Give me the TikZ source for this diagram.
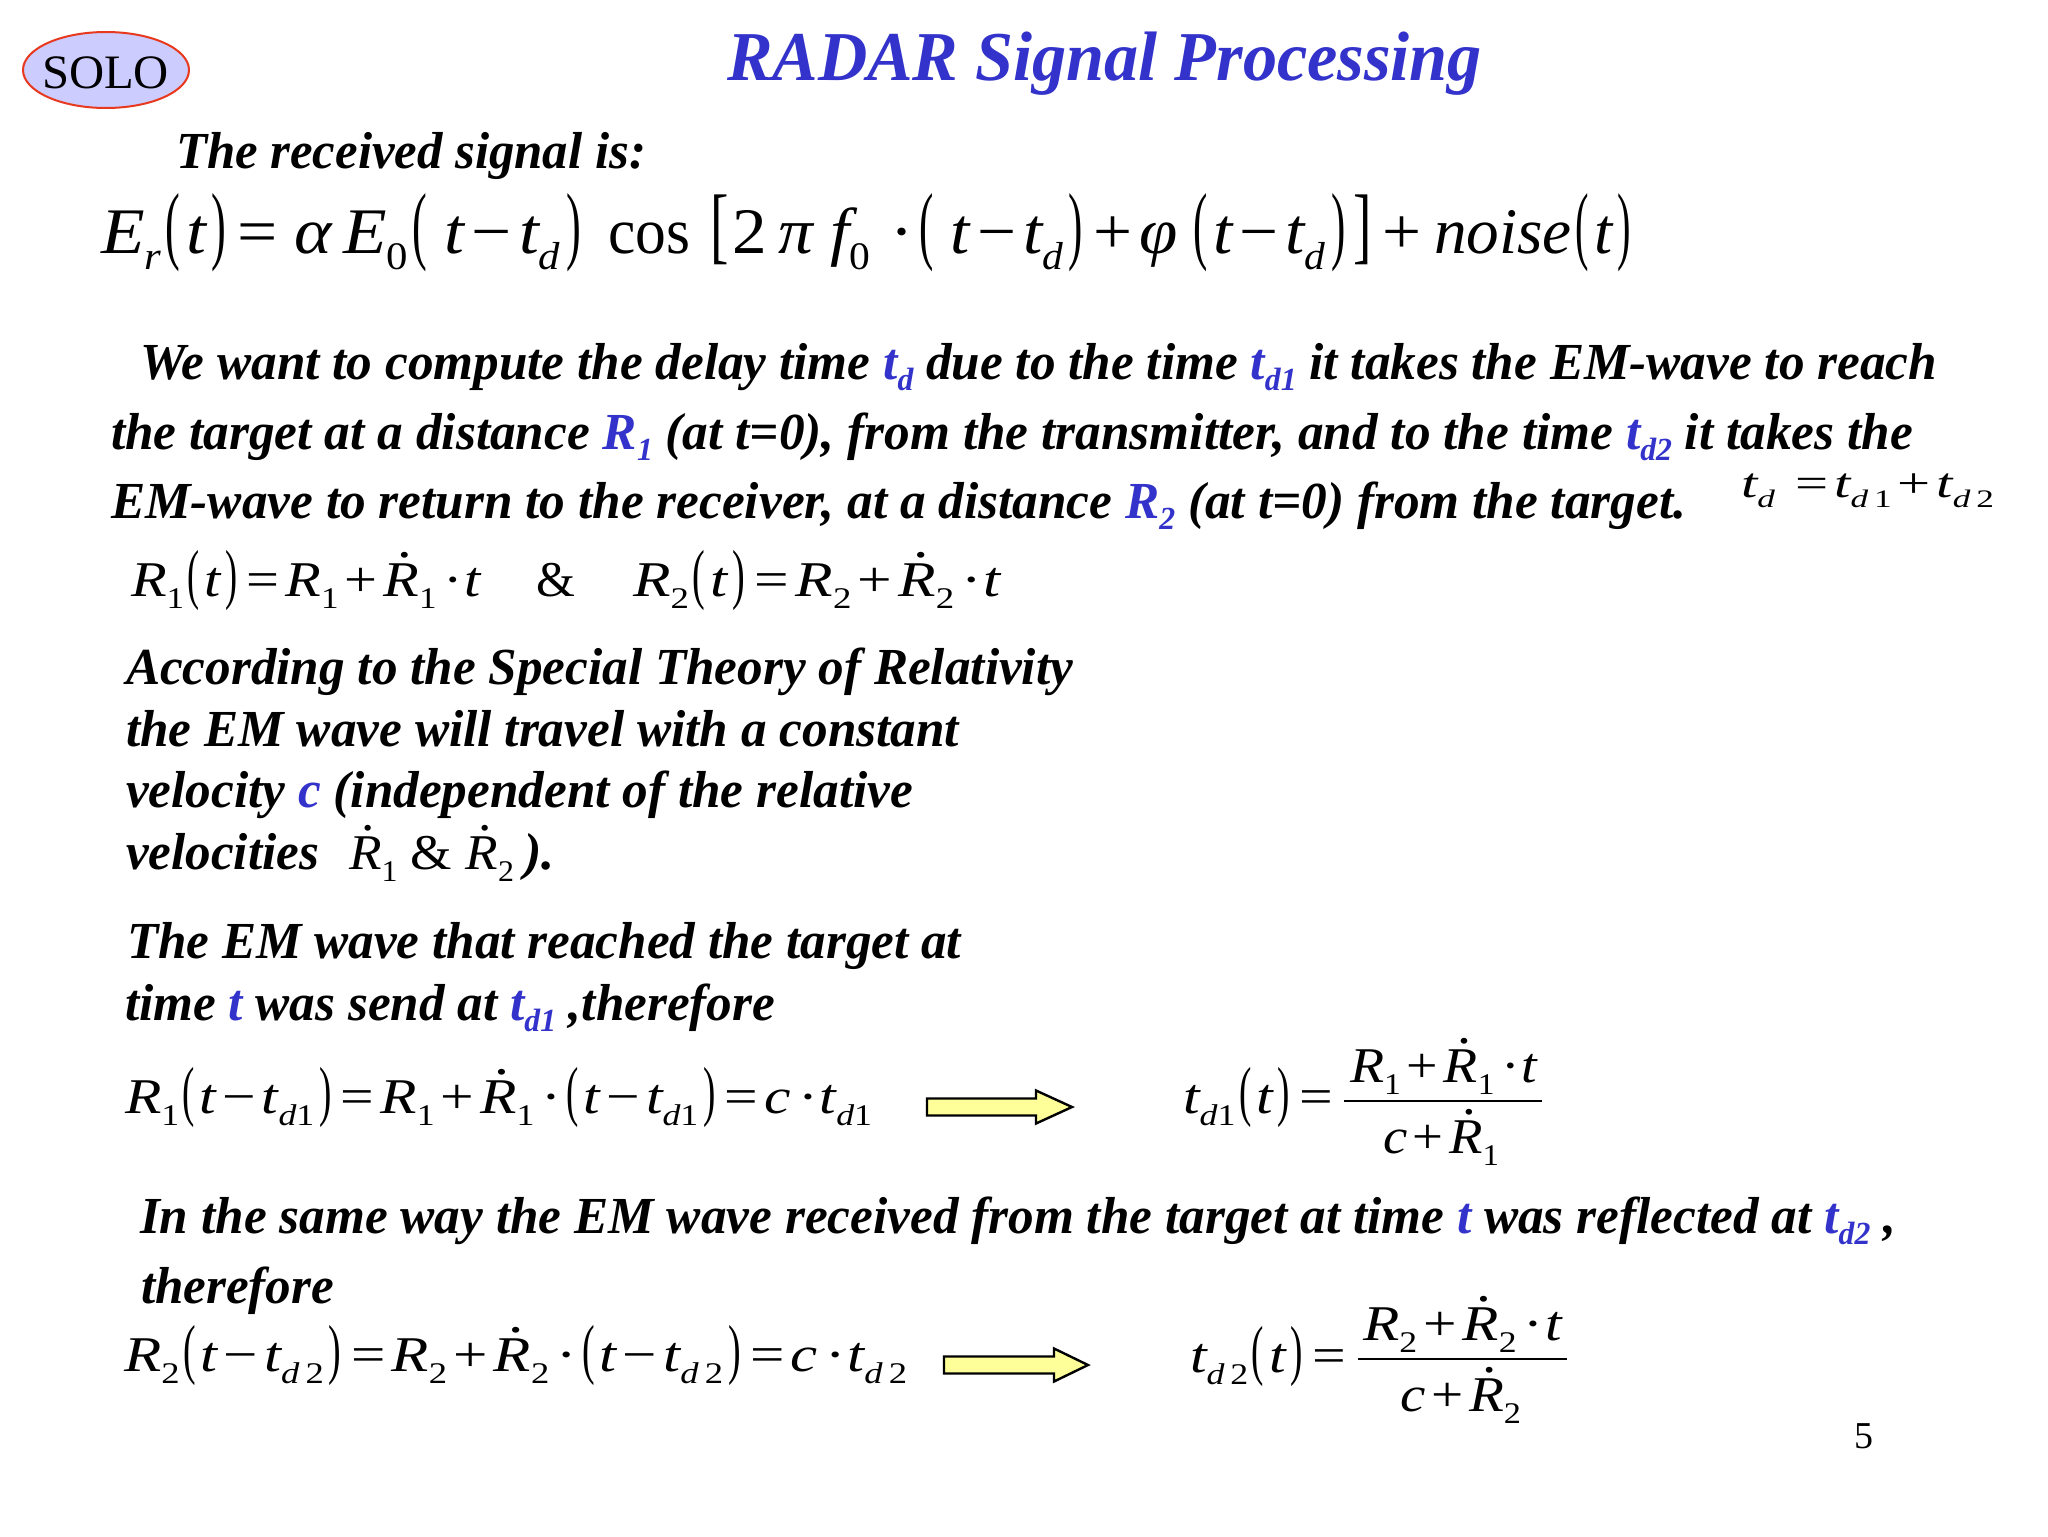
\documentclass[tikz,border=0pt]{standalone}
\usepackage{fontspec}
\usepackage{graphicx}
\usetikzlibrary{shapes.geometric}
\setmainfont{Liberation Serif}
\definecolor{tblue}{HTML}{3333CC}
\definecolor{solofill}{HTML}{CCCCFF}
\definecolor{solored}{HTML}{E8391F}
\definecolor{arrowfill}{HTML}{FFFF99}
\newlength{\pxu}\setlength{\pxu}{0.5pt}
\newcommand{\fitw}[2]{\resizebox{#1\pxu}{\height}{#2}}
\newcommand{\Lp}{\kern.06em\scalebox{.62}[1.33]{\upshape(}\kern.08em}
\newcommand{\Rp}{\kern.08em\scalebox{.62}[1.33]{\upshape)}\kern.06em}
\newcommand{\Lb}{\kern.05em\scalebox{.8}[1.3]{\upshape[}\kern.05em}
\newcommand{\Rb}{\kern.05em\scalebox{.8}[1.3]{\upshape]}\kern.05em}
\newcommand{\sbs}[1]{\raisebox{-.25em}{\scalebox{.6}{#1}}}
\newcommand{\Up}[1]{{\upshape #1}}
\newcommand{\Eq}{\kern.1em{\upshape=}\kern.1em}
\newcommand{\EqEnd}{\kern.1em{\upshape=}}
\newcommand{\Pl}{\kern.1em{\upshape+}\kern.1em}
\newcommand{\PlEnd}{\kern.1em{\upshape+}}
\newcommand{\Mi}{\kern.1em{\upshape−}\kern.1em}
\newcommand{\Cd}{\kern.12em{\upshape·}\kern.03em}
\newcommand{\dR}{\rlap{\kern.24em\raisebox{.78em}{\upshape .}}R}
\newcommand{\bl}[1]{{\color{tblue}#1}}
\newcommand{\tsub}[2]{#1\raisebox{-.22em}{\scalebox{.62}{#2}}}
\newcommand{\fsz}[1]{\fontsize{#1}{#1}\selectfont}
\tikzset{
  lbl/.style={anchor=base west,inner sep=0pt,outer sep=0pt},
  bodytext/.style={lbl,font=\fsz{26}\bfseries\itshape},
  formula/.style={lbl,font=\fsz{25}\itshape},
  bigformula/.style={lbl,font=\fsz{32.5}\itshape},
  bigarrow/.style={draw=black,line width=1.2pt,fill=arrowfill,line join=miter},
  fracbar/.style={draw=black,line width=1pt}
}
\begin{document}
\begin{tikzpicture}[x=0.5pt,y=-0.5pt]
\useasboundingbox (0,0) rectangle (2048,1536);
\fill[white] (0,0) rectangle (2048,1536);
\node[ellipse,draw=solored,fill=solofill,line width=1pt,minimum width=166\pxu,minimum height=76\pxu,inner sep=0pt] (soloshape) at (106,70) {};
\node[lbl,font=\fsz{24}] (solo) at (42,89) {\fitw{127}{SOLO}};
\node[lbl,font=\fsz{35}\bfseries\itshape,text=tblue] (title) at (727,80) {\fitw{755}{RADAR Signal Processing}};
\node[bodytext] (recv) at (176,168) {\fitw{470}{The received signal is:}};
\node[bigformula] (eqmaina) at (101,253) {\fitw{177}{E\sbs{r}\Lp t\Rp\EqEnd}};
\node[bigformula] (eqmainb) at (294,253) {\fitw{291}{α\,E\sbs{\Up{0}}\Lp\,t\Mi t\sbs{d}\Rp}};
\node[bigformula] (eqmainc) at (608,253) {\fitw{82}{\Up{cos}}};
\node[bigformula] (eqmaind) at (707,253) {\fitw{714}{\Lb\Up{2}\,π\ f\sbs{\Up{0}}\,\Cd\Lp\,t\Mi t\sbs{d}\Rp\Pl φ\,\Lp t\Mi t\sbs{d}\Rp\Rb\PlEnd}};
\node[bigformula] (eqmaine) at (1434,253) {\fitw{201}{noise\Lp t\Rp}};
\node[bodytext] (la) at (140,379) {\fitw{1797}{We want to compute the delay time \bl{\tsub{t}{d}} due to the time \bl{\tsub{t}{d1}} it takes the EM-wave to reach}};
\node[bodytext] (lb) at (111,449) {\fitw{1802}{the target at a distance \bl{\tsub{R}{1}} (at t=0), from the transmitter, and to the time \bl{\tsub{t}{d2}} it takes the}};
\node[bodytext] (lc) at (111,518) {\fitw{1575}{EM-wave to return to the receiver, at a distance \bl{\tsub{R}{2}} (at t=0) from the target.}};
\node[lbl,font=\fsz{21}\itshape] (eqtd) at (1741,497) {\fitw{253}{t\sbs{d}\ \Eq t\sbs{d\,\Up{1}}\Pl t\sbs{d\,\Up{2}}}};
\node[formula] (eqRa) at (131,596) {\fitw{350}{R\sbs{\Up{1}}\Lp t\Rp\Eq R\sbs{\Up{1}}\Pl\dR\sbs{\Up{1}}\Cd t}};
\node[formula] (eqRamp) at (536,596) {\Up{\&}};
\node[formula] (eqRb) at (633,596) {\fitw{368}{R\sbs{\Up{2}}\Lp t\Rp\Eq R\sbs{\Up{2}}\Pl\dR\sbs{\Up{2}}\Cd t}};
\node[bodytext] (ra) at (126,684) {\fitw{947}{According to the Special Theory of Relativity}};
\node[bodytext] (rb) at (126,746) {\fitw{833}{the EM wave will travel with a constant}};
\node[bodytext] (rc) at (126,807) {\fitw{787}{velocity \bl{c} (independent of the relative}};
\node[bodytext] (rd) at (126,869) {\fitw{193}{velocities}};
\node[formula] (re) at (349,869) {\fitw{165}{\dR\sbs{\Up{1}}\ \Up{\&}\ \dR\sbs{\Up{2}}}};
\node[bodytext] (rf) at (524,869) {).};
\node[bodytext] (sa) at (127,958) {\fitw{834}{The EM wave that reached the target at}};
\node[bodytext] (sb) at (125,1020) {\fitw{650}{time \bl{t} was send at \bl{\tsub{t}{d1}} ,therefore}};
\node[formula] (eqA) at (125,1113) {\fitw{747}{R\sbs{\Up{1}}\Lp t\Mi t\sbs{d\Up{1}}\Rp\Eq R\sbs{\Up{1}}\Pl\dR\sbs{\Up{1}}\Cd\Lp t\Mi t\sbs{d\Up{1}}\Rp\Eq c\Cd t\sbs{d\Up{1}}}};
\coordinate (arAs) at (927,1107);
\coordinate (arAh) at (1036,1107);
\coordinate (arAe) at (1072,1107);
\draw[bigarrow] ([yshift=8.5\pxu]arAs) -- ([yshift=8.5\pxu]arAh) -- ([yshift=16.5\pxu]arAh) -- (arAe) -- ([yshift=-16.5\pxu]arAh) -- ([yshift=-8.5\pxu]arAh) -- ([yshift=-8.5\pxu]arAs) -- cycle;
\node[formula] (eqB) at (1183,1113) {\fitw{150}{t\sbs{d\Up{1}}\Lp t\Rp\EqEnd}};
\coordinate (barAa) at (1344,1101);
\coordinate (barAb) at (1542,1101);
\draw[fracbar] (barAa) -- (barAb);
\node[formula] (numA) at (1350,1082) {\fitw{187}{R\sbs{\Up{1}}\Pl\dR\sbs{\Up{1}}\Cd t}};
\node[formula] (denA) at (1383,1153) {\fitw{116}{c\Pl\dR\sbs{\Up{1}}}};
\node[bodytext] (ta) at (140,1233) {\fitw{1756}{In the same way the EM wave received from the target at time \bl{t} was reflected at \bl{\tsub{t}{d2}} ,}};
\node[bodytext] (tb) at (141,1303) {\fitw{193}{therefore}};
\node[formula] (eqC) at (124,1371) {\fitw{783}{R\sbs{\Up{2}}\Lp t\Mi t\sbs{d\,\Up{2}}\Rp\Eq R\sbs{\Up{2}}\Pl\dR\sbs{\Up{2}}\Cd\Lp t\Mi t\sbs{d\,\Up{2}}\Rp\Eq c\Cd t\sbs{d\,\Up{2}}}};
\coordinate (arBs) at (944,1365);
\coordinate (arBh) at (1054,1365);
\coordinate (arBe) at (1088,1365);
\draw[bigarrow] ([yshift=8.5\pxu]arBs) -- ([yshift=8.5\pxu]arBh) -- ([yshift=16.5\pxu]arBh) -- (arBe) -- ([yshift=-16.5\pxu]arBh) -- ([yshift=-8.5\pxu]arBh) -- ([yshift=-8.5\pxu]arBs) -- cycle;
\node[formula] (eqD) at (1190,1372) {\fitw{156}{t\sbs{d\,\Up{2}}\Lp t\Rp\EqEnd}};
\coordinate (barBa) at (1358,1359);
\coordinate (barBb) at (1567,1359);
\draw[fracbar] (barBa) -- (barBb);
\node[formula] (numB) at (1363,1340) {\fitw{199}{R\sbs{\Up{2}}\Pl\dR\sbs{\Up{2}}\Cd t}};
\node[formula] (denB) at (1400,1411) {\fitw{121}{c\Pl\dR\sbs{\Up{2}}}};
\node[lbl,font=\fsz{19}] (pagenum) at (1854,1448) {5};
\end{tikzpicture}
\end{document}
